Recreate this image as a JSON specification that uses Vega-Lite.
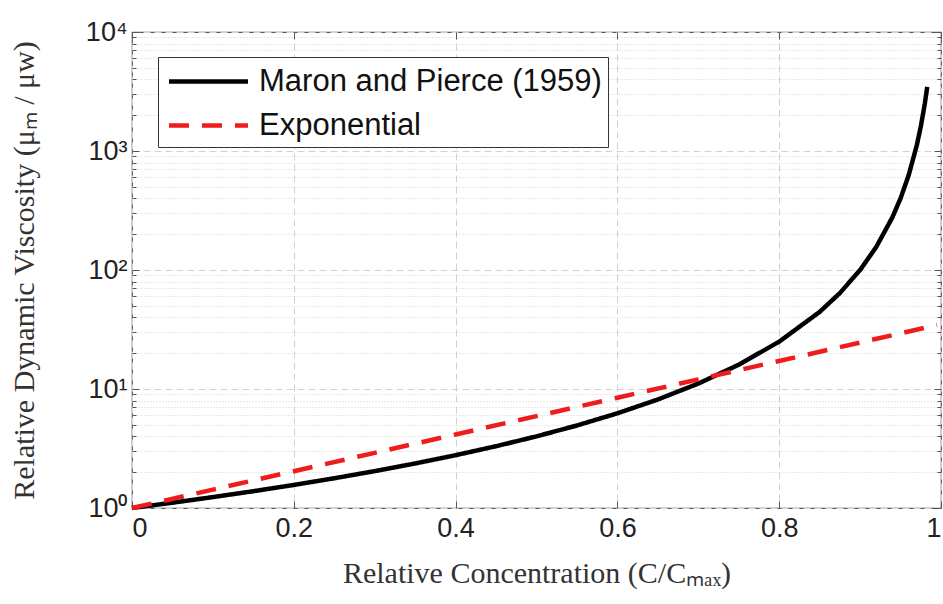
{
  "$schema": "https://vega.github.io/schema/vega-lite/v6.json",
  "autosize": "none",
  "width": 809,
  "height": 476,
  "padding": {"left": 132, "top": 32, "right": 2, "bottom": 96},
  "background": "white",
  "config": {
    "view": {"stroke": "#555", "strokeWidth": 1.2},
    "axis": {"labelFont": "Liberation Sans", "titleFont": "Liberation Serif", "labelColor": "#222", "titleColor": "#333", "titleFontWeight": "normal"}
  },
  "data": {"values": [
    {"x": 0, "y": 1, "s": "Maron and Pierce (1959)"},
    {"x": 0.05, "y": 1.108, "s": "Maron and Pierce (1959)"},
    {"x": 0.1, "y": 1.235, "s": "Maron and Pierce (1959)"},
    {"x": 0.15, "y": 1.384, "s": "Maron and Pierce (1959)"},
    {"x": 0.2, "y": 1.5625, "s": "Maron and Pierce (1959)"},
    {"x": 0.25, "y": 1.778, "s": "Maron and Pierce (1959)"},
    {"x": 0.3, "y": 2.041, "s": "Maron and Pierce (1959)"},
    {"x": 0.35, "y": 2.367, "s": "Maron and Pierce (1959)"},
    {"x": 0.4, "y": 2.778, "s": "Maron and Pierce (1959)"},
    {"x": 0.45, "y": 3.306, "s": "Maron and Pierce (1959)"},
    {"x": 0.5, "y": 4.0, "s": "Maron and Pierce (1959)"},
    {"x": 0.55, "y": 4.938, "s": "Maron and Pierce (1959)"},
    {"x": 0.6, "y": 6.25, "s": "Maron and Pierce (1959)"},
    {"x": 0.65, "y": 8.163, "s": "Maron and Pierce (1959)"},
    {"x": 0.7, "y": 11.11, "s": "Maron and Pierce (1959)"},
    {"x": 0.75, "y": 16.0, "s": "Maron and Pierce (1959)"},
    {"x": 0.8, "y": 25.0, "s": "Maron and Pierce (1959)"},
    {"x": 0.85, "y": 44.44, "s": "Maron and Pierce (1959)"},
    {"x": 0.875, "y": 64.0, "s": "Maron and Pierce (1959)"},
    {"x": 0.9, "y": 100.0, "s": "Maron and Pierce (1959)"},
    {"x": 0.92, "y": 156.3, "s": "Maron and Pierce (1959)"},
    {"x": 0.94, "y": 277.8, "s": "Maron and Pierce (1959)"},
    {"x": 0.95, "y": 400.0, "s": "Maron and Pierce (1959)"},
    {"x": 0.96, "y": 625.0, "s": "Maron and Pierce (1959)"},
    {"x": 0.97, "y": 1111.0, "s": "Maron and Pierce (1959)"},
    {"x": 0.975, "y": 1600.0, "s": "Maron and Pierce (1959)"},
    {"x": 0.98, "y": 2500.0, "s": "Maron and Pierce (1959)"},
    {"x": 0.983, "y": 3460.0, "s": "Maron and Pierce (1959)"},
    {"x": 0, "y": 1, "s": "Exponential"},
    {"x": 0.1, "y": 1.427, "s": "Exponential"},
    {"x": 0.2, "y": 2.037, "s": "Exponential"},
    {"x": 0.3, "y": 2.907, "s": "Exponential"},
    {"x": 0.4, "y": 4.149, "s": "Exponential"},
    {"x": 0.5, "y": 5.921, "s": "Exponential"},
    {"x": 0.6, "y": 8.45, "s": "Exponential"},
    {"x": 0.7, "y": 12.06, "s": "Exponential"},
    {"x": 0.8, "y": 17.21, "s": "Exponential"},
    {"x": 0.9, "y": 24.56, "s": "Exponential"},
    {"x": 0.995, "y": 34.5, "s": "Exponential"}
  ]},
  "resolve": {"axis": {"x": "independent", "y": "independent"}},
  "layer": [
    {
      "mark": {"type": "line", "strokeWidth": 4.5, "strokeCap": "butt"},
      "encoding": {
        "x": {"field": "x", "type": "quantitative",
          "scale": {"domain": [0, 1], "nice": false, "zero": false},
          "axis": {"values": [0, 0.2, 0.4, 0.6, 0.8, 1], "format": ".1~f", "domain": false,
            "tickSize": -7, "tickColor": "#555", "labelFontSize": 27, "labelPadding": 14,
            "grid": true, "gridDash": [7, 4], "gridColor": "#d0d0d0",
            "title": "Relative Concentration (C/Cₘₐₓ)", "titleFontSize": 30, "titlePadding": 17}},
        "y": {"field": "y", "type": "quantitative",
          "scale": {"type": "log", "domain": [1, 10000], "nice": false},
          "axis": {
            "values": [1,2,3,4,5,6,7,8,9,10,20,30,40,50,60,70,80,90,100,200,300,400,500,600,700,800,900,1000,2000,3000,4000,5000,6000,7000,8000,9000,10000],
            "labelExpr": "datum.value == 1 ? '10⁰' : datum.value == 10 ? '10¹' : datum.value == 100 ? '10²' : datum.value == 1000 ? '10³' : datum.value == 10000 ? '10⁴' : ''",
            "domain": false, "labelFontSize": 27, "labelPadding": 12,
            "tickSize": {"condition": {"test": "indexof([1,10,100,1000,10000], datum.value) >= 0", "value": -7}, "value": -4},
            "tickColor": "#555",
            "grid": true, "gridColor": "#d2d2d2",
            "gridDash": {"condition": {"test": "indexof([1,10,100,1000,10000], datum.value) >= 0", "value": [7, 4]}, "value": [1, 2]},
            "title": "Relative Dynamic Viscosity (μₘ / μw)", "titleFontSize": 30, "titlePadding": 46}},
        "color": {"field": "s", "type": "nominal",
          "scale": {"domain": ["Maron and Pierce (1959)", "Exponential"], "range": ["#000000", "#ee1c1c"]},
          "legend": {"title": null, "orient": "none", "legendX": 26, "legendY": 25,
            "strokeColor": "#333", "fillColor": "white", "padding": 6, "rowPadding": 10,
            "labelFont": "Liberation Sans", "labelFontSize": 31, "labelColor": "#111", "labelOffset": 32,
            "symbolType": "M-2.5,0H2.5", "symbolSize": 1000, "symbolOffset": 26, "symbolStrokeWidth": 4.5, "labelLimit": 500}},
        "strokeDash": {"field": "s", "type": "nominal",
          "scale": {"domain": ["Maron and Pierce (1959)", "Exponential"], "range": [[1, 0], [20, 13]]},
          "legend": {"title": null, "orient": "none", "legendX": 26, "legendY": 25,
            "strokeColor": "#333", "fillColor": "white", "padding": 6, "rowPadding": 10,
            "labelFont": "Liberation Sans", "labelFontSize": 31, "labelColor": "#111", "labelOffset": 32,
            "symbolType": "M-2.5,0H2.5", "symbolSize": 1000, "symbolOffset": 26, "symbolStrokeWidth": 4.5, "labelLimit": 500}}
      }
    },
    {
      "mark": {"type": "line", "opacity": 0},
      "encoding": {
        "x": {"field": "x", "type": "quantitative",
          "axis": {"orient": "top", "values": [0, 0.2, 0.4, 0.6, 0.8, 1], "labels": false, "domain": false,
            "tickSize": -7, "tickColor": "#555", "grid": false, "title": null}},
        "y": {"field": "y", "type": "quantitative",
          "axis": {"orient": "right",
            "values": [1,2,3,4,5,6,7,8,9,10,20,30,40,50,60,70,80,90,100,200,300,400,500,600,700,800,900,1000,2000,3000,4000,5000,6000,7000,8000,9000,10000],
            "labels": false, "domain": false, "grid": false, "title": null, "tickColor": "#555",
            "tickSize": {"condition": {"test": "indexof([1,10,100,1000,10000], datum.value) >= 0", "value": -7}, "value": -4}}}
      }
    }
  ]
}
